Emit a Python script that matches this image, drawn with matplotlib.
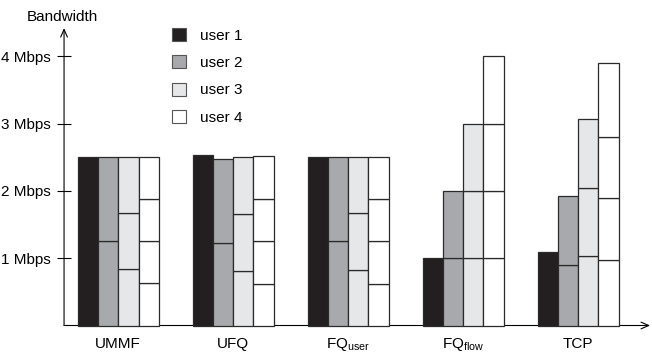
import numpy as np
import matplotlib.pyplot as plt
from matplotlib.patches import Patch

plt.rcParams['font.family'] = ['Liberation Sans', 'DejaVu Sans']
plt.rcParams['mathtext.fontset'] = 'custom'
plt.rcParams['mathtext.rm'] = 'Liberation Sans'
plt.rcParams['font.size'] = 11

# schemes on the x axis
schemes = ['UMMF', 'UFQ', r'FQ$_{\mathrm{user}}$', r'FQ$_{\mathrm{flow}}$', 'TCP']
users = ['user 1', 'user 2', 'user 3', 'user 4']

# per-flow bandwidth (Mbps) of each user, stacked bottom to top
ummf = [[2.5], [1.25, 1.25], [0.835, 0.835, 0.83], [0.625, 0.625, 0.625, 0.625]]
ufq = [[2.53], [1.22, 1.25], [0.81, 0.85, 0.84], [0.62, 0.63, 0.63, 0.64]]
fq_user = [[2.5], [1.25, 1.25], [0.83, 0.84, 0.83], [0.62, 0.63, 0.63, 0.62]]
fq_flow = [[1.0], [1.0, 1.0], [1.0, 1.0, 1.0], [1.0, 1.0, 1.0, 1.0]]
tcp = [[1.09], [0.90, 1.03], [1.03, 1.01, 1.03], [0.97, 0.92, 0.91, 1.10]]
yticks = [1, 2, 3, 4]

colors = ['#231f20', '#a7a9ac', '#e6e7e8', '#ffffff']
edge = '#2a2a2a'

fig = plt.figure(figsize=(6.52, 3.54), dpi=100)
ax = fig.add_axes([0, 0, 1, 1])
ax.set_xlim(-1.028, 4.642)
ax.set_ylim(-0.4235, 4.837)

w = 0.1765
x0 = -0.471  # where the y axis sits
for g, flows_by_user in enumerate([ummf, ufq, fq_user, fq_flow, tcp]):
    for u, flows in enumerate(flows_by_user):
        x = g + (u - 1.5) * w
        bottom = 0
        for f in flows:
            ax.bar(x, f, width=w, bottom=bottom, color=colors[u],
                   edgecolor=edge, linewidth=0.9, zorder=2)
            bottom += f

# axes drawn as arrows
arrow = dict(arrowstyle='->,head_length=0.5,head_width=0.22', lw=0.8,
             color='black', shrinkA=0, shrinkB=0)
ax.annotate('', xy=(x0, 4.42), xytext=(x0, 0), arrowprops=arrow, zorder=3)
ax.annotate('', xy=(4.625, 0), xytext=(x0, 0), arrowprops=arrow, zorder=1)
ax.text(x0 - 0.015, 4.59, 'Bandwidth', ha='center', va='center')

for s in ax.spines.values():
    s.set_visible(False)
ax.spines['left'].set_position(('data', x0))
ax.spines['bottom'].set_position(('data', 0))
ax.set_yticks(yticks)
ax.set_yticklabels([f'{v} Mbps' for v in yticks])
ax.tick_params(axis='y', direction='inout', length=10, width=0.8, pad=4.5)
ax.set_xticks(range(len(schemes)))
ax.set_xticklabels(schemes, va='baseline')
ax.tick_params(axis='x', length=0, pad=16)

handles = [Patch(facecolor=c, edgecolor='#555555', linewidth=0.8) for c in colors]
ax.legend(handles, users, loc='upper left', bbox_to_anchor=(172 / 652, 1 - 28 / 354),
          bbox_transform=fig.transFigure, frameon=False, borderpad=0,
          handlelength=0.94, handleheight=0.94, handletextpad=0.88,
          labelspacing=0.82, borderaxespad=0)

fig.savefig('out.png', dpi=100)
